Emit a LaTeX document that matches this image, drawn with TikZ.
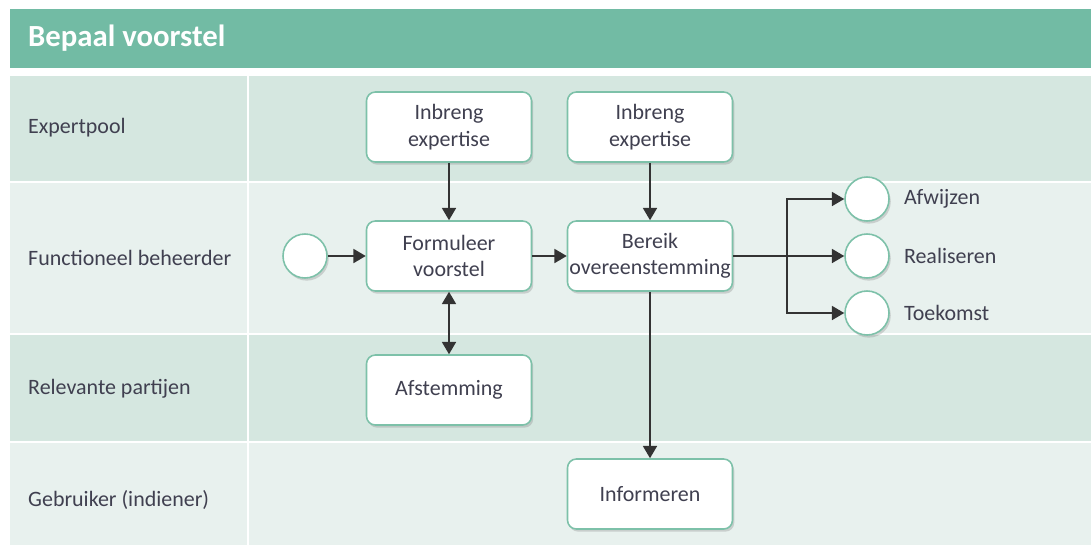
\documentclass[tikz,border=0pt]{standalone}
\usepackage{fontspec}
\setmainfont{Carlito}
\usepackage{tikz}
\usetikzlibrary{positioning,arrows.meta,shadows}

\definecolor{kop}{HTML}{72BBA4}
\definecolor{baandonker}{HTML}{D5E7E0}
\definecolor{baanlicht}{HTML}{E8F1EE}
\definecolor{rand}{HTML}{7DC1A9}
\definecolor{tekst}{HTML}{404050}
\definecolor{lijn}{HTML}{333333}

\tikzset{
  stap/.style={draw=rand, line width=0.9pt, fill=white, rounded corners=5pt,
    minimum width=3.3cm, minimum height=1.4cm, inner xsep=1pt, align=center,
    text=tekst, font=\fontsize{12.5}{15}\selectfont,
    drop shadow={opacity=0.3, shadow xshift=1pt, shadow yshift=-1.5pt}},
  gebeurtenis/.style={circle, draw=rand, line width=0.9pt, fill=white,
    minimum size=0.88cm, inner sep=0pt,
    drop shadow={opacity=0.3, shadow xshift=1pt, shadow yshift=-1.5pt}},
  baan/.style={anchor=west, text=tekst, font=\fontsize{12.5}{14}\selectfont},
  uitkomst/.style={text=tekst, font=\fontsize{12.5}{14}\selectfont},
  pijl/.style={draw=lijn, line width=0.9pt, -{Triangle[length=7pt,width=8pt]}}
}

\begin{document}
\begin{tikzpicture}[x=0.02cm, y=-0.02cm]

\useasboundingbox[fill=white] (0,0) rectangle (1091,545);

% kop
\fill[kop] (10,9) rectangle (1091,68);
\node[anchor=west, text=white, font=\fontsize{17.5}{20}\selectfont\bfseries] (titel) at (22,38) {Bepaal voorstel};

% banen
\fill[baandonker] (10,76) rectangle (247,181);
\fill[baandonker] (249,76) rectangle (1091,181);
\fill[baanlicht] (10,183) rectangle (247,333);
\fill[baanlicht] (249,183) rectangle (1091,333);
\fill[baandonker] (10,335) rectangle (247,441);
\fill[baandonker] (249,335) rectangle (1091,441);
\fill[baanlicht] (10,443) rectangle (247,545);
\fill[baanlicht] (249,443) rectangle (1091,545);

\node[baan] (expertpool) at (22,128) {Expertpool};
\node[baan] (beheerder) at (22,258) {Functioneel beheerder};
\node[baan] (partijen) at (22,389) {Relevante partijen};
\node[baan] (gebruiker) at (22,500) {Gebruiker (indiener)};

% stappen
\node[stap] (inbreng1) at (449,127) {Inbreng\\expertise};
\node[stap] (inbreng2) at (650,127) {Inbreng\\expertise};
\node[stap] (formuleer) at (449,256) {Formuleer\\voorstel};
\node[stap] (bereik) at (650,256) {Bereik\\overeenstemming};
\node[stap] (afstemming) at (449,390) {Afstemming};
\node[stap] (informeren) at (650,494) {Informeren};

% gebeurtenissen
\node[gebeurtenis] (start) at (305,256) {};
\node[gebeurtenis] (afwijzen) at (867,199) {};
\node[gebeurtenis] (realiseren) at (867,256) {};
\node[gebeurtenis] (toekomst) at (867,313) {};

\node[uitkomst, right=0.16cm of afwijzen] (lafwijzen) {Afwijzen};
\node[uitkomst, right=0.16cm of realiseren] (lrealiseren) {Realiseren};
\node[uitkomst, right=0.16cm of toekomst] (ltoekomst) {Toekomst};

% pijlen
\draw[pijl] (inbreng1) -- (formuleer);
\draw[pijl] (inbreng2) -- (bereik);
\draw[pijl] (start) -- (formuleer);
\draw[pijl] (formuleer) -- (bereik);
\draw[pijl, {Triangle[length=7pt,width=8pt]}-{Triangle[length=7pt,width=8pt]}] (formuleer) -- (afstemming);
\draw[pijl] (bereik) -- (informeren);
\draw[pijl] (bereik) -- (realiseren);
\coordinate (splits) at (787,256);
\draw[pijl] (splits) |- (afwijzen);
\draw[pijl] (splits) |- (toekomst);

\end{tikzpicture}
\end{document}
